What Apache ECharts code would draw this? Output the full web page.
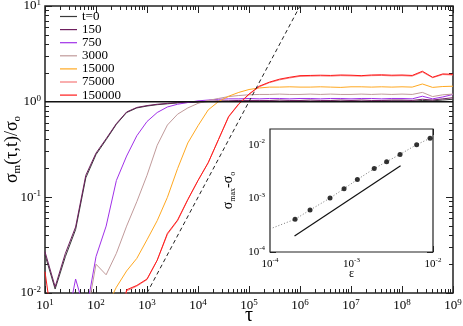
<!DOCTYPE html>
<html>
<head>
<meta charset="utf-8">
<script src="https://cdn.jsdelivr.net/npm/echarts@6/dist/echarts.min.js"></script>
<style>
  html, body { margin: 0; padding: 0; background: #fff; }
  #chart { width: 463px; height: 326px; }
</style>
</head>
<body>
<div id="chart"></div>
<script>
// sampled waiting times tau (log spaced, 5 per decade)
var tau = [10, 15.8, 25.1, 39.8, 63.1, 100, 158, 251, 398, 631,
           1000, 1585, 2512, 3981, 6310, 1e4, 15849, 25119, 39811, 63096,
           1e5, 158489, 251189, 398107, 630957, 1e6, 1.585e6, 2.512e6, 3.981e6, 6.31e6,
           1e7, 1.585e7, 2.512e7, 3.981e7, 6.31e7, 1e8, 1.585e8, 2.512e8, 3.981e8, 6.31e8, 1e9];

var t0 = [0.025, 0.011, 0.024, 0.046, 0.16, 0.28, 0.40, 0.58, 0.77, 0.86,
          0.90, 0.93, 0.95, 0.97, 0.98, 0.99, 1.0, 1.0, 1.01, 1.01,
          1.01, 1.01, 1.02, 1.01, 1.01, 1.02, 1.01, 1.01, 1.02, 1.01,
          1.02, 1.01, 1.01, 1.02, 1.02, 1.02, 1.01, 1.03, 1.02, 1.04, 1.06];
var t150 = [0.027, 0.0116, 0.026, 0.049, 0.17, 0.29, 0.41, 0.59, 0.78, 0.87,
            0.91, 0.94, 0.96, 0.98, 0.99, 1.0, 1.01, 1.02, 1.02, 1.03,
            1.03, 1.03, 1.03, 1.04, 1.03, 1.03, 1.04, 1.03, 1.03, 1.04,
            1.03, 1.04, 1.03, 1.03, 1.04, 1.04, 1.03, 1.06, 1.04, 1.07, 1.1];
var t750 = [0.003, 0.003, 0.004, 0.014, 0.006, 0.024, 0.05, 0.15, 0.27, 0.44,
            0.62, 0.77, 0.88, 0.94, 0.98, 1.02, 1.04, 1.06, 1.07, 1.07,
            1.08, 1.07, 1.08, 1.08, 1.07, 1.08, 1.08, 1.07, 1.08, 1.08,
            1.07, 1.08, 1.08, 1.07, 1.08, 1.08, 1.07, 1.14, 1.07, 1.12, 1.19];
var t3000 = [0.003, 0.003, 0.003, 0.003, 0.005, 0.02, 0.0155, 0.026, 0.05, 0.09,
             0.17, 0.35, 0.57, 0.74, 0.86, 0.96, 1.03, 1.08, 1.13, 1.16,
             1.18, 1.19, 1.19, 1.2, 1.19, 1.19, 1.2, 1.19, 1.2, 1.19,
             1.19, 1.2, 1.19, 1.2, 1.19, 1.2, 1.19, 1.25, 1.13, 1.18, 1.2];
var t15000 = [0.003, 0.003, 0.003, 0.003, 0.003, 0.004, 0.007, 0.0115, 0.017, 0.023,
              0.036, 0.057, 0.1, 0.2, 0.37, 0.56, 0.82, 1.0, 1.14, 1.25,
              1.34, 1.39, 1.42, 1.42, 1.43, 1.42, 1.42, 1.43, 1.42, 1.41,
              1.43, 1.43, 1.42, 1.43, 1.42, 1.43, 1.42, 1.53, 1.41, 1.44, 1.45];
var t75000 = [0.003, 0.003, 0.003, 0.003, 0.003, 0.003, 0.003, 0.003, 0.0105, 0.0118,
              0.0138, 0.022, 0.041, 0.057, 0.094, 0.15, 0.23, 0.40, 0.69, 0.94,
              1.19, 1.43, 1.58, 1.69, 1.77, 1.84, 1.85, 1.86, 1.85, 1.87,
              1.86, 1.85, 1.87, 1.88, 1.86, 1.87, 1.85, 2.04, 1.78, 1.92, 1.9];
var t150000 = [0.0167, 0.003, 0.003, 0.003, 0.003, 0.003, 0.003, 0.003, 0.0108, 0.012,
               0.014, 0.022, 0.042, 0.058, 0.095, 0.15, 0.23, 0.40, 0.70, 0.95,
               1.2, 1.45, 1.6, 1.72, 1.8, 1.87, 1.88, 1.89, 1.88, 1.9,
               1.89, 1.87, 1.9, 1.91, 1.89, 1.9, 1.88, 2.08, 1.8, 1.95, 1.93];

var names = ['t=0', '150', '750', '3000', '15000', '75000', '150000'];
var values = [t0, t150, t750, t3000, t15000, t75000, t150000];
var colors = ['#3a3a3a', '#6e1f5e', '#a030e8', '#c09a9a', '#ffa820', '#f57878', '#ff1a1a'];

// reference lines of the main panel
var unitLine = [[10, 1], [1e9, 1]];
var slopeLine = [[1000, 0.01], [1e6, 10]];

// inset: sigma_max - sigma_o versus epsilon
var eps = [2.03e-4, 3.1e-4, 5.45e-4, 8.1e-4, 1.18e-3, 1.9e-3, 2.7e-3, 3.94e-3, 6.3e-3, 9.2e-3];
var dSigma = [4.1e-4, 6.1e-4, 1.02e-3, 1.53e-3, 2.27e-3, 3.63e-3, 4.9e-3, 6.7e-3, 1.02e-2, 1.34e-2];
var fitStart = [1e-4, 2.7e-4];
var guideLine = [[2e-4, 2e-4], [4e-3, 4.1e-3]];

var mainXMajor = [10, 100, 1e3, 1e4, 1e5, 1e6, 1e7, 1e8, 1e9];
var mainYMajor = [0.01, 0.1, 1, 10];
var insetMajor = [1e-4, 1e-3, 1e-2];

function minorTicks(lo, hi, max) {
  var out = [];
  for (var e = lo; e <= hi; e++) {
    for (var m = 2; m <= 9; m++) {
      var v = m * Math.pow(10, e);
      if (v <= max) out.push(v);
    }
  }
  return out;
}

var serif = 'Liberation Serif';
function powLabel(v) { return '{b|10}{s|' + Math.round(Math.log10(v)) + '}'; }

function tickAxis(o) {
  var ax = {
    type: 'log', logBase: 10, gridIndex: o.grid, position: o.pos,
    min: o.min, max: o.max,
    axisLine: { show: false }, splitLine: { show: false },
    axisTick: { show: true, inside: true, length: o.len, customValues: o.ticks,
                lineStyle: { color: '#222', width: 1 } },
    axisLabel: { show: false }
  };
  if (o.labels) {
    ax.axisLabel = {
      show: true, customValues: o.ticks, margin: o.margin, formatter: powLabel,
      color: '#000',
      rich: {
        b: { fontSize: o.fs, fontFamily: serif, color: '#000', lineHeight: o.fs + 3 },
        s: { fontSize: o.ss, fontFamily: serif, color: '#000', verticalAlign: 'top', lineHeight: o.ss + 1 }
      }
    };
  }
  if (o.name) {
    ax.name = o.name;
    ax.nameLocation = 'middle';
    ax.nameGap = o.gap;
    ax.nameMoveOverlap = false;
    if (o.rot) ax.nameRotate = 90;
    ax.nameTextStyle = o.nameStyle;
  }
  return ax;
}

var xAxes = [
  tickAxis({ grid: 0, pos: 'bottom', min: 10, max: 1e9, len: 7, ticks: mainXMajor, labels: true, fs: 13, ss: 9, margin: 5,
             name: 'τ', gap: 13, nameStyle: { fontFamily: serif, fontSize: 20, color: '#000' } }),
  tickAxis({ grid: 0, pos: 'bottom', min: 10, max: 1e9, len: 4, ticks: minorTicks(1, 8, 1e9) }),
  tickAxis({ grid: 0, pos: 'top', min: 10, max: 1e9, len: 7, ticks: mainXMajor }),
  tickAxis({ grid: 0, pos: 'top', min: 10, max: 1e9, len: 4, ticks: minorTicks(1, 8, 1e9) }),
  tickAxis({ grid: 1, pos: 'bottom', min: 1e-4, max: 1e-2, len: 6, ticks: insetMajor, labels: true, fs: 11, ss: 7, margin: 5,
             name: 'ε', gap: 16, nameStyle: { fontFamily: serif, fontSize: 12, color: '#000' } }),
  tickAxis({ grid: 1, pos: 'bottom', min: 1e-4, max: 1e-2, len: 3, ticks: minorTicks(-4, -3, 1e-2) }),
  tickAxis({ grid: 1, pos: 'top', min: 1e-4, max: 1e-2, len: 6, ticks: insetMajor }),
  tickAxis({ grid: 1, pos: 'top', min: 1e-4, max: 1e-2, len: 3, ticks: minorTicks(-4, -3, 1e-2) })
];

var yAxes = [
  tickAxis({ grid: 0, pos: 'left', min: 0.01, max: 10, len: 7, ticks: mainYMajor, labels: true, fs: 13, ss: 9, margin: 4,
             name: '{a|σ}{u|m}{a|(τ,t)/σ}{u|o}', gap: 22, rot: true,
             nameStyle: { fontFamily: serif, color: '#000', rich: {
               a: { fontSize: 18, fontFamily: serif, color: '#000', lineHeight: 22 },
               u: { fontSize: 11, fontFamily: serif, color: '#000', lineHeight: 22, verticalAlign: 'bottom' } } } }),
  tickAxis({ grid: 0, pos: 'left', min: 0.01, max: 10, len: 4, ticks: minorTicks(-2, 0, 10) }),
  tickAxis({ grid: 0, pos: 'right', min: 0.01, max: 10, len: 7, ticks: mainYMajor }),
  tickAxis({ grid: 0, pos: 'right', min: 0.01, max: 10, len: 4, ticks: minorTicks(-2, 0, 10) }),
  tickAxis({ grid: 1, pos: 'left', min: 1e-4, max: 0.02, len: 6, ticks: insetMajor, labels: true, fs: 11, ss: 7, margin: 5,
             name: '{a|σ}{u|max}{a|-σ}{u|o}', gap: 33, rot: true,
             nameStyle: { fontFamily: serif, color: '#000', rich: {
               a: { fontSize: 14, fontFamily: serif, color: '#000', lineHeight: 17 },
               u: { fontSize: 8, fontFamily: serif, color: '#000', lineHeight: 17, verticalAlign: 'bottom' } } } }),
  tickAxis({ grid: 1, pos: 'left', min: 1e-4, max: 0.02, len: 3, ticks: minorTicks(-4, -2, 0.02) }),
  tickAxis({ grid: 1, pos: 'right', min: 1e-4, max: 0.02, len: 6, ticks: insetMajor }),
  tickAxis({ grid: 1, pos: 'right', min: 1e-4, max: 0.02, len: 3, ticks: minorTicks(-4, -2, 0.02) })
];

var series = [];
names.forEach(function (n, i) {
  series.push({
    name: n, type: 'line', xAxisIndex: 0, yAxisIndex: 0,
    data: tau.map(function (t, k) { return [t, values[i][k]]; }),
    symbol: 'none', clip: true, color: colors[i],
    lineStyle: { color: colors[i], width: 1 }, z: 2 + i
  });
});
series.push({
  type: 'line', xAxisIndex: 0, yAxisIndex: 0, data: unitLine, symbol: 'none',
  lineStyle: { color: '#111', width: 1.5 }, z: 10, silent: true
});
series.push({
  type: 'line', xAxisIndex: 0, yAxisIndex: 0, data: slopeLine, symbol: 'none',
  lineStyle: { color: '#222', width: 1, type: [4, 3] }, z: 10, silent: true
});
series.push({
  type: 'line', xAxisIndex: 4, yAxisIndex: 4, symbol: 'none',
  data: [fitStart].concat(eps.map(function (e, k) { return [e, dSigma[k]]; })),
  lineStyle: { color: '#777', width: 1, type: [1, 2] }, z: 11
});
series.push({
  type: 'scatter', xAxisIndex: 4, yAxisIndex: 4, symbol: 'circle', symbolSize: 5,
  data: eps.map(function (e, k) { return [e, dSigma[k]]; }),
  itemStyle: { color: '#000' }, z: 12
});
series.push({
  type: 'line', xAxisIndex: 4, yAxisIndex: 4, data: guideLine, symbol: 'none',
  lineStyle: { color: '#111', width: 1.2 }, z: 11
});

var chart = echarts.init(document.getElementById('chart'), null, { renderer: 'canvas' });
chart.setOption({
  backgroundColor: '#fff',
  animation: false,
  grid: [
    { left: 45, top: 6, width: 408, height: 287, show: true, borderColor: '#222', borderWidth: 1.5,
      backgroundColor: 'transparent', containLabel: false, outerBoundsMode: 'none' },
    { left: 270, top: 129, width: 163, height: 123, show: true, borderColor: '#222', borderWidth: 1.2,
      backgroundColor: '#fff', z: 5, containLabel: false, outerBoundsMode: 'none' }
  ],
  legend: {
    data: names, orient: 'vertical', left: 60, top: 10, padding: 0,
    icon: 'rect', itemWidth: 17, itemHeight: 1.2, itemGap: 0.1,
    textStyle: { fontFamily: serif, fontSize: 13, color: '#000', lineHeight: 12 }
  },
  xAxis: xAxes,
  yAxis: yAxes,
  series: series
});
</script>
</body>
</html>
